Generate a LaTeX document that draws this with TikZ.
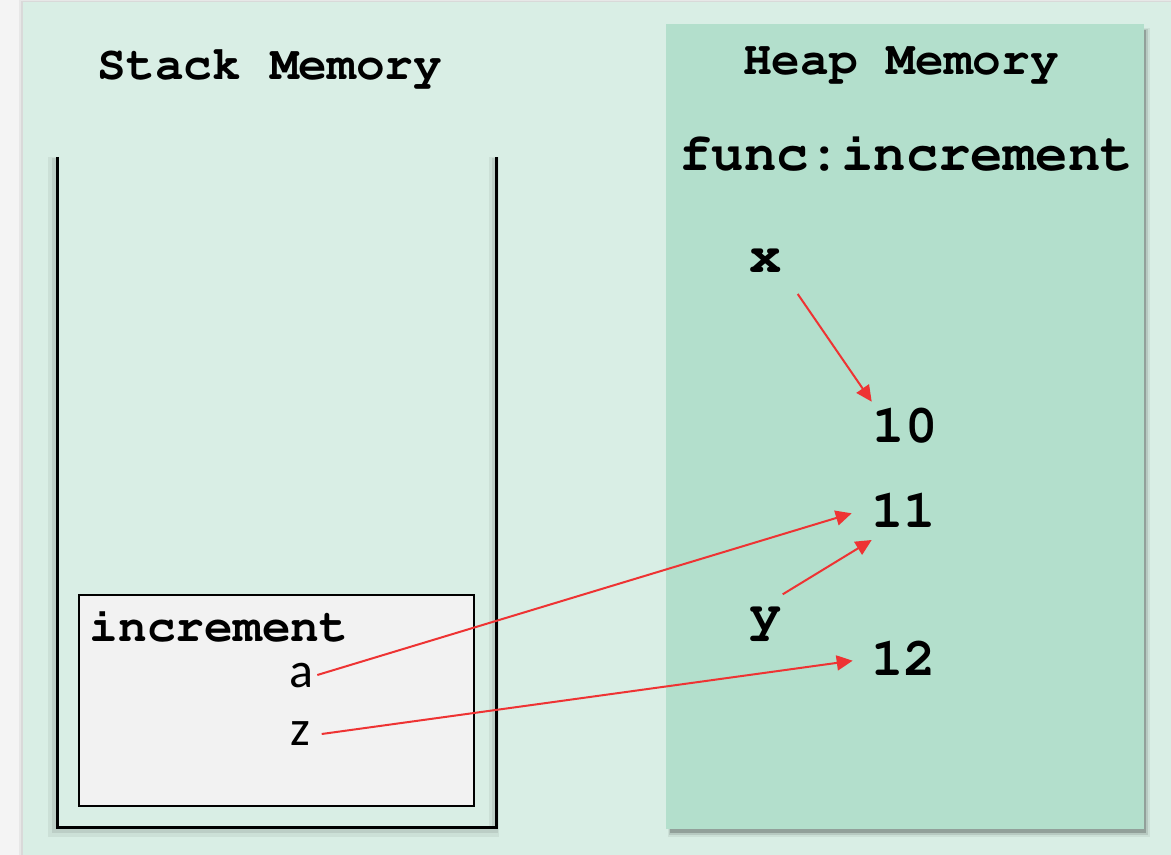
\documentclass[tikz,border=0pt]{standalone}
\usepackage[T1,TU]{fontenc}
\usepackage{fontspec}
\setmonofont{Liberation Mono}
\newfontfamily\calfont{Carlito}
\newcommand\courb{\fontencoding{T1}\fontfamily{pcr}\fontseries{b}\selectfont}
\usetikzlibrary{arrows.meta,calc}
\definecolor{pagegray}{HTML}{F4F4F4}
\definecolor{bggreen}{HTML}{D9EEE5}
\definecolor{heapgreen}{HTML}{B3DFCC}
\definecolor{boxgray}{HTML}{F2F2F2}
\definecolor{arrred}{HTML}{EE3333}
\tikzset{
  title/.style={anchor=base,inner sep=0pt,font=\fontsize{23.9}{28}\courb},
  big/.style={anchor=base,inner sep=0pt,font=\fontsize{27}{31}\courb},
  var/.style={anchor=base,inner sep=0pt,font=\fontsize{25}{29}\calfont},
  ptr/.style={draw=arrred,line width=1pt,-{Triangle[length=8pt,width=7.5pt]},arrred},
}
\begin{document}
\begin{tikzpicture}[x=0.5pt,y=-0.5pt]
\useasboundingbox (0,0) rectangle (1171,855);
% page and background panel
\fill[pagegray] (0,0) rectangle (1171,855);
\fill[black,opacity=0.05] (19,0) rectangle (1171,855);
\fill[black,opacity=0.06] (21,1) rectangle (1171,855);
\fill[bggreen] (23,2.5) rectangle (1171,855);
% heap panel with shadow
\fill[black,opacity=0.06] (668,28) rectangle (1150,837);
\fill[black,opacity=0.1] (669,29) rectangle (1148,835);
\fill[black,opacity=0.2] (670,30) rectangle (1146,833);
\fill[heapgreen] (666,24) rectangle (1144,829);
% stack container with shadow
\draw[black,opacity=0.06,line width=5pt] (53,157) -- (53,832) -- (494,832) -- (494,157);
\draw[black,opacity=0.08,line width=3pt] (55,158) -- (55,830) -- (495,830) -- (495,158);
\draw[line width=1.5pt] (57,157) -- (57,827) -- (496,827) -- (496,157);
% increment frame
\draw[fill=boxgray,line width=1pt] (78.5,594.5) rectangle (474,806);
% titles
\node[title] (stackt) at (270,80) {Stack Memory};
\node[title] (heapt) at (901,75) {Heap Memory};
\node[big] (func) at (906,171) {func:increment};
% heap values
\node[big] (x) at (766,273) {x};
\node[big] (y) at (766,630) {y};
\node[big] (n10) at (905,442) {10};
\node[big] (n11) at (903.5,527) {11};
\node[big] (n12) at (903.5,675) {12};
% stack frame
\node[title] (inc) at (219,641) {increment};
\node[var] (a) at (301,687) {a};
\node[var] (z) at (300,745) {z};
% pointers
\draw[ptr] ($(x.base)+(31.7,21)$) -- ($(n10.base)+(-33.3,-40.3)$);
\draw[ptr] ($(a.base)+(16.3,-12)$) -- ($(n11.base)+(-51.8,-13.7)$);
\draw[ptr] ($(y.base)+(16.7,-35.7)$) -- ($(n11.base)+(-31.8,13)$);
\draw[ptr] ($(z.base)+(21.7,-11)$) -- ($(n12.base)+(-50.8,-14.3)$);
\end{tikzpicture}
\end{document}
